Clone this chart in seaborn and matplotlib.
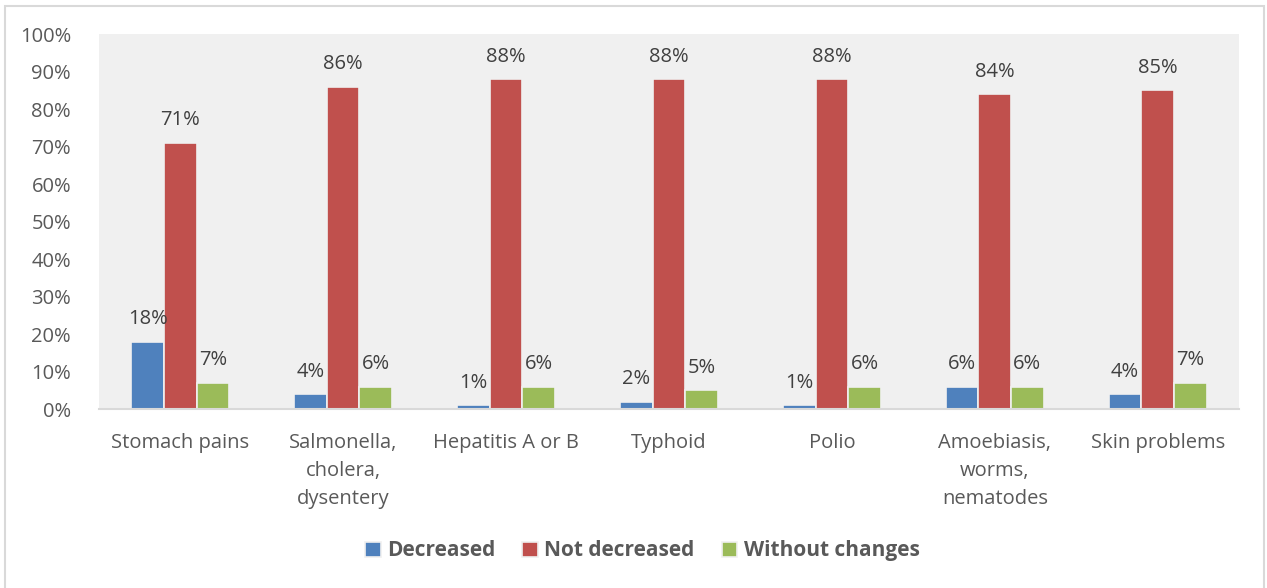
import pandas as pd
import matplotlib.pyplot as plt
import seaborn as sns
from matplotlib.patches import Rectangle
from matplotlib.ticker import FuncFormatter

# values (percent)
diseases = ['Stomach pains', 'Salmonella,\ncholera,\ndysentery', 'Hepatitis A or B',
            'Typhoid', 'Polio', 'Amoebiasis,\nworms,\nnematodes', 'Skin problems']
decreased = [18, 4, 1, 2, 1, 6, 4]
not_decreased = [71, 86, 88, 88, 88, 84, 85]
without_changes = [7, 6, 6, 5, 6, 6, 7]
series = ['Decreased', 'Not decreased', 'Without changes']
colors = ['#4f81bd', '#c0504d', '#9bbb59']

df = pd.DataFrame({'disease': diseases * 3,
                   'value': decreased + not_decreased + without_changes,
                   'status': [s for s in series for _ in diseases]})

sns.set_style('white')
plt.rcParams['font.family'] = ['Open Sans', 'DejaVu Sans']
txt = '#595959'

fig = plt.figure(figsize=(12.67, 5.88), dpi=100)
ax = fig.add_axes([0.078, 0.304, 0.9, 0.638])
ax.set_facecolor('#f0f0f0')

sns.barplot(data=df, x='disease', y='value', hue='status', palette=colors,
            saturation=1, width=0.6, edgecolor='#f0f0f0', linewidth=1.2, ax=ax)

for c in ax.containers:
    ax.bar_label(c, fmt='%d%%', padding=9, fontsize=14.5, color='#404040')

ax.set_ylim(0, 100)
ax.set_yticks(range(0, 101, 10))
ax.yaxis.set_major_formatter(FuncFormatter(lambda v, p: f'{v:.0f}%'))
ax.set_xlabel('')
ax.set_ylabel('')
ax.tick_params(axis='both', length=0, labelsize=14.5, labelcolor=txt)
ax.tick_params(axis='x', pad=17)
ax.tick_params(axis='y', pad=20)
for lbl in ax.get_xticklabels():
    lbl.set_linespacing(1.55)
for s in ['top', 'right', 'left']:
    ax.spines[s].set_visible(False)
ax.spines['bottom'].set_color('#d9d9d9')
ax.spines['bottom'].set_linewidth(1.5)

ax.legend_.remove()
h, l = ax.get_legend_handles_labels()
leg = fig.legend(h, l, loc='center', bbox_to_anchor=(0.507, 0.063), ncol=3,
                 frameon=False, handlelength=0.75, handleheight=0.75,
                 handletextpad=0.3, columnspacing=1.3,
                 prop={'size': 15, 'weight': 'bold'})
for t in leg.get_texts():
    t.set_color(txt)

fig.patches.append(Rectangle((0.004, -0.01), 0.994, 1.0, transform=fig.transFigure,
                             fill=False, edgecolor='#d9d9d9', linewidth=1.5))

fig.savefig('out.png', dpi=100)
